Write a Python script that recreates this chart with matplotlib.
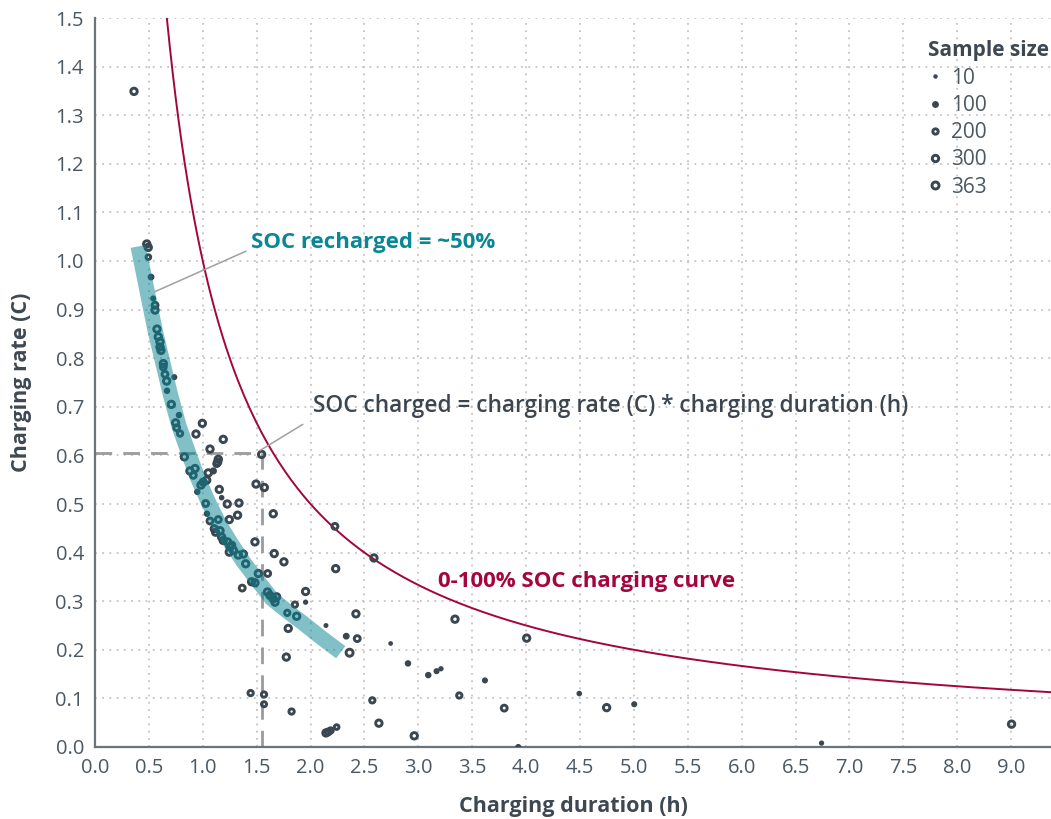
import numpy as np
import matplotlib.pyplot as plt
from matplotlib.lines import Line2D

plt.rcParams['font.family'] = ['Open Sans', 'DejaVu Sans']

# charging duration (h), charging rate (C), sample size
duration = [0.362, 0.48, 0.494, 0.495, 0.52, 0.54, 0.557, 0.557, 0.575, 0.587,
            0.603, 0.603, 0.612, 0.634, 0.634, 0.649, 0.736, 0.665, 0.668, 0.708,
            0.779, 0.748, 0.758, 0.789, 0.996, 0.937, 1.19, 1.067, 0.829, 1.144,
            1.138, 1.129, 1.546, 0.881, 0.928, 0.912, 1.051, 1.098, 0.949, 0.983,
            1.005, 1.036, 1.153, 1.175, 1.494, 1.571, 1.027, 1.227, 1.336, 1.039,
            1.323, 1.246, 1.067, 1.144, 1.654, 1.107, 1.119, 1.16, 1.175, 1.19,
            1.23, 1.252, 1.268, 1.246, 1.283, 1.484, 1.33, 1.376, 1.398, 1.663,
            1.753, 1.515, 1.602, 1.453, 1.484, 1.366, 2.226, 2.233, 1.6, 1.623,
            1.654, 1.67, 1.685, 1.954, 1.954, 1.855, 1.784, 1.871, 1.793, 2.143,
            2.588, 2.421, 2.331, 2.433, 2.362, 2.743, 1.775, 2.904, 3.092, 3.169,
            3.21, 1.444, 1.568, 1.568, 1.824, 2.573, 2.634, 2.962, 2.143, 2.164,
            2.186, 2.242, 3.34, 4.005, 3.618, 3.38, 3.797, 4.493, 4.747, 5.003,
            3.927, 8.504, 6.741]
rate = [1.349, 1.035, 1.028, 1.008, 0.967, 0.923, 0.909, 0.899, 0.86, 0.844,
        0.834, 0.823, 0.816, 0.789, 0.782, 0.767, 0.761, 0.753, 0.733, 0.705,
        0.683, 0.667, 0.657, 0.645, 0.666, 0.644, 0.633, 0.613, 0.597, 0.592,
        0.586, 0.583, 0.602, 0.568, 0.573, 0.559, 0.564, 0.568, 0.525, 0.539,
        0.545, 0.549, 0.53, 0.513, 0.541, 0.534, 0.501, 0.5, 0.502, 0.48,
        0.477, 0.468, 0.465, 0.468, 0.48, 0.449, 0.442, 0.445, 0.432, 0.425,
        0.422, 0.412, 0.415, 0.401, 0.405, 0.422, 0.395, 0.397, 0.377, 0.398,
        0.381, 0.357, 0.357, 0.34, 0.338, 0.327, 0.454, 0.367, 0.319, 0.312,
        0.305, 0.298, 0.309, 0.32, 0.298, 0.293, 0.276, 0.269, 0.244, 0.25,
        0.389, 0.274, 0.228, 0.223, 0.194, 0.213, 0.185, 0.172, 0.148, 0.156,
        0.161, 0.111, 0.108, 0.088, 0.073, 0.096, 0.049, 0.023, 0.029, 0.031,
        0.034, 0.041, 0.263, 0.224, 0.137, 0.106, 0.08, 0.11, 0.081, 0.088,
        0.0, 0.047, 0.008]
sample = [300, 300, 300, 150, 100, 60, 250, 300, 300, 300,
          300, 300, 300, 300, 250, 250, 60, 300, 80, 300,
          80, 300, 250, 200, 300, 300, 300, 300, 300, 300,
          300, 250, 300, 300, 300, 250, 300, 120, 80, 300,
          300, 300, 300, 40, 300, 300, 250, 300, 300, 80,
          300, 300, 250, 250, 300, 300, 300, 300, 300, 300,
          300, 300, 300, 300, 300, 300, 300, 300, 300, 300,
          300, 300, 250, 300, 300, 250, 250, 300, 300, 300,
          300, 300, 300, 300, 30, 200, 200, 300, 300, 20,
          300, 300, 100, 250, 363, 15, 300, 80, 80, 60,
          30, 200, 200, 180, 200, 200, 300, 300, 300, 250,
          200, 150, 300, 300, 60, 200, 250, 40, 300, 60,
          60, 300, 30]

# ~50% SOC band, read along its centre
band_dur = [0.40, 0.45, 0.50, 0.56, 0.63, 0.70, 0.78, 0.86, 0.95, 1.05, 1.15,
            1.26, 1.38, 1.50, 1.64, 1.78, 1.93, 2.10, 2.28]
band_rate = [1.03, 0.975, 0.92, 0.855, 0.79, 0.725, 0.66, 0.61, 0.555, 0.505, 0.46,
             0.42, 0.38, 0.345, 0.305, 0.28, 0.255, 0.225, 0.195]

full_soc = 1.0  # 0-100% SOC: rate * duration = 1
ref_x, ref_y = 1.55, 0.604

xticks = np.arange(0, 8.51, 0.5)
xticklabels = ['0.0', '0.5', '1.0', '1.5', '2.0', '2.5', '3.0', '3.5', '4.0', '4.5',
               '5.0', '5.5', '6.0', '6.5', '7.0', '7.5', '8.0', '9.0']
legend_sizes = [10, 100, 200, 300, 363]

DARK = '#3a4650'
TEAL = '#068393'
RED = '#a3053c'
TXT = '#4b5862'


def marker_style(n):
    # outer diameter in px grows with sample size, ring stroke ~3 px
    d = 3.5 + 6.5 * np.sqrt(n / 363.0)
    inner = max(d - 3.0, 0.6) * 0.72
    return inner ** 2


fig = plt.figure(figsize=(10.51, 8.19), dpi=100)
ax = fig.add_axes([95 / 1051, 72 / 819, 956 / 1051, 729 / 819])

ax.set_xlim(0, 8.87)
ax.set_ylim(0, 1.5)

ax.grid(True, linestyle=(0, (1, 3)), color='#c4c4c4', linewidth=1.3)
ax.set_axisbelow(True)
for s in ['top', 'right']:
    ax.spines[s].set_visible(False)
for s in ['left', 'bottom']:
    ax.spines[s].set_color('#6b747b')
    ax.spines[s].set_linewidth(1.6)

ax.set_xticks(xticks)
ax.set_xticklabels(xticklabels)
ax.set_yticks(np.arange(0, 1.51, 0.1))
ax.set_yticklabels([f'{v:.1f}' for v in np.arange(0, 1.51, 0.1)])
ax.tick_params(length=0, labelsize=14.5, labelcolor=TXT, pad=8)

ax.set_xlabel('Charging duration (h)', fontsize=15.5, fontweight='bold', color='#3d4852', labelpad=13)
ax.set_ylabel('Charging rate (C)', fontsize=15.5, fontweight='bold', color='#3d4852', labelpad=17)

# 100% SOC curve
cx = np.linspace(full_soc / 1.5, 8.87, 300)
ax.plot(cx, full_soc / cx, color=RED, linewidth=1.4, zorder=3)

# reference dashed lines
ax.plot([0, ref_x], [ref_y, ref_y], color='#9b9b9b', linewidth=2, dashes=(6, 4), zorder=2)
ax.plot([ref_x, ref_x], [0, ref_y], color='#9b9b9b', linewidth=2, dashes=(6, 4), zorder=2)

# scatter
sizes = [marker_style(n) for n in sample]
faces = [DARK if n <= 120 else 'none' for n in sample]
ax.scatter(duration, rate, s=sizes, facecolors=faces, edgecolors=DARK, linewidths=2.1, zorder=4)

# teal band over the points
ax.plot(band_dur, band_rate, color=TEAL, alpha=0.5, linewidth=11, solid_capstyle='butt', zorder=5)

# annotations
ax.annotate('SOC recharged = ~50%', xy=(0.557, 0.937), xytext=(1.45, 1.038),
            fontsize=16, fontweight='bold', color='#0a8796', ha='left', va='center',
            arrowprops=dict(arrowstyle='-', color='#a0a0a0', linewidth=1.1,
                            relpos=(0, 0.2), shrinkA=2, shrinkB=0), zorder=6)
ax.annotate('SOC charged = charging rate (C) * charging duration (h)', xy=(1.53, 0.61),
            xytext=(2.02, 0.701), fontsize=16.3, fontweight='semibold', color='#3c4650',
            ha='left', va='center',
            arrowprops=dict(arrowstyle='-', color='#a0a0a0', linewidth=1.1,
                            relpos=(0, 0.0), shrinkA=6, shrinkB=0), zorder=6)
ax.text(3.18, 0.341, '0-100% SOC charging curve', fontsize=16, fontweight='bold',
        color=RED, ha='left', va='center', zorder=6)

# legend
handles = []
for n in legend_sizes:
    handles.append(Line2D([], [], linestyle='none', marker='o',
                          markersize=np.sqrt(marker_style(n)),
                          markerfacecolor=DARK if n <= 120 else 'none',
                          markeredgecolor=DARK, markeredgewidth=2.1))
leg = ax.legend(handles, [str(n) for n in legend_sizes], title='Sample size',
                loc='upper left', bbox_to_anchor=(918 / 1051, 1 - 30 / 819),
                bbox_transform=fig.transFigure, frameon=False, fontsize=15,
                title_fontsize=15, handlelength=0.6, handletextpad=0.5,
                labelspacing=0.3, borderpad=0, alignment='left')
leg.get_title().set_fontweight('bold')
leg.get_title().set_color('#3d4852')
for t in leg.get_texts():
    t.set_color(TXT)

fig.savefig('out.png', dpi=100)
